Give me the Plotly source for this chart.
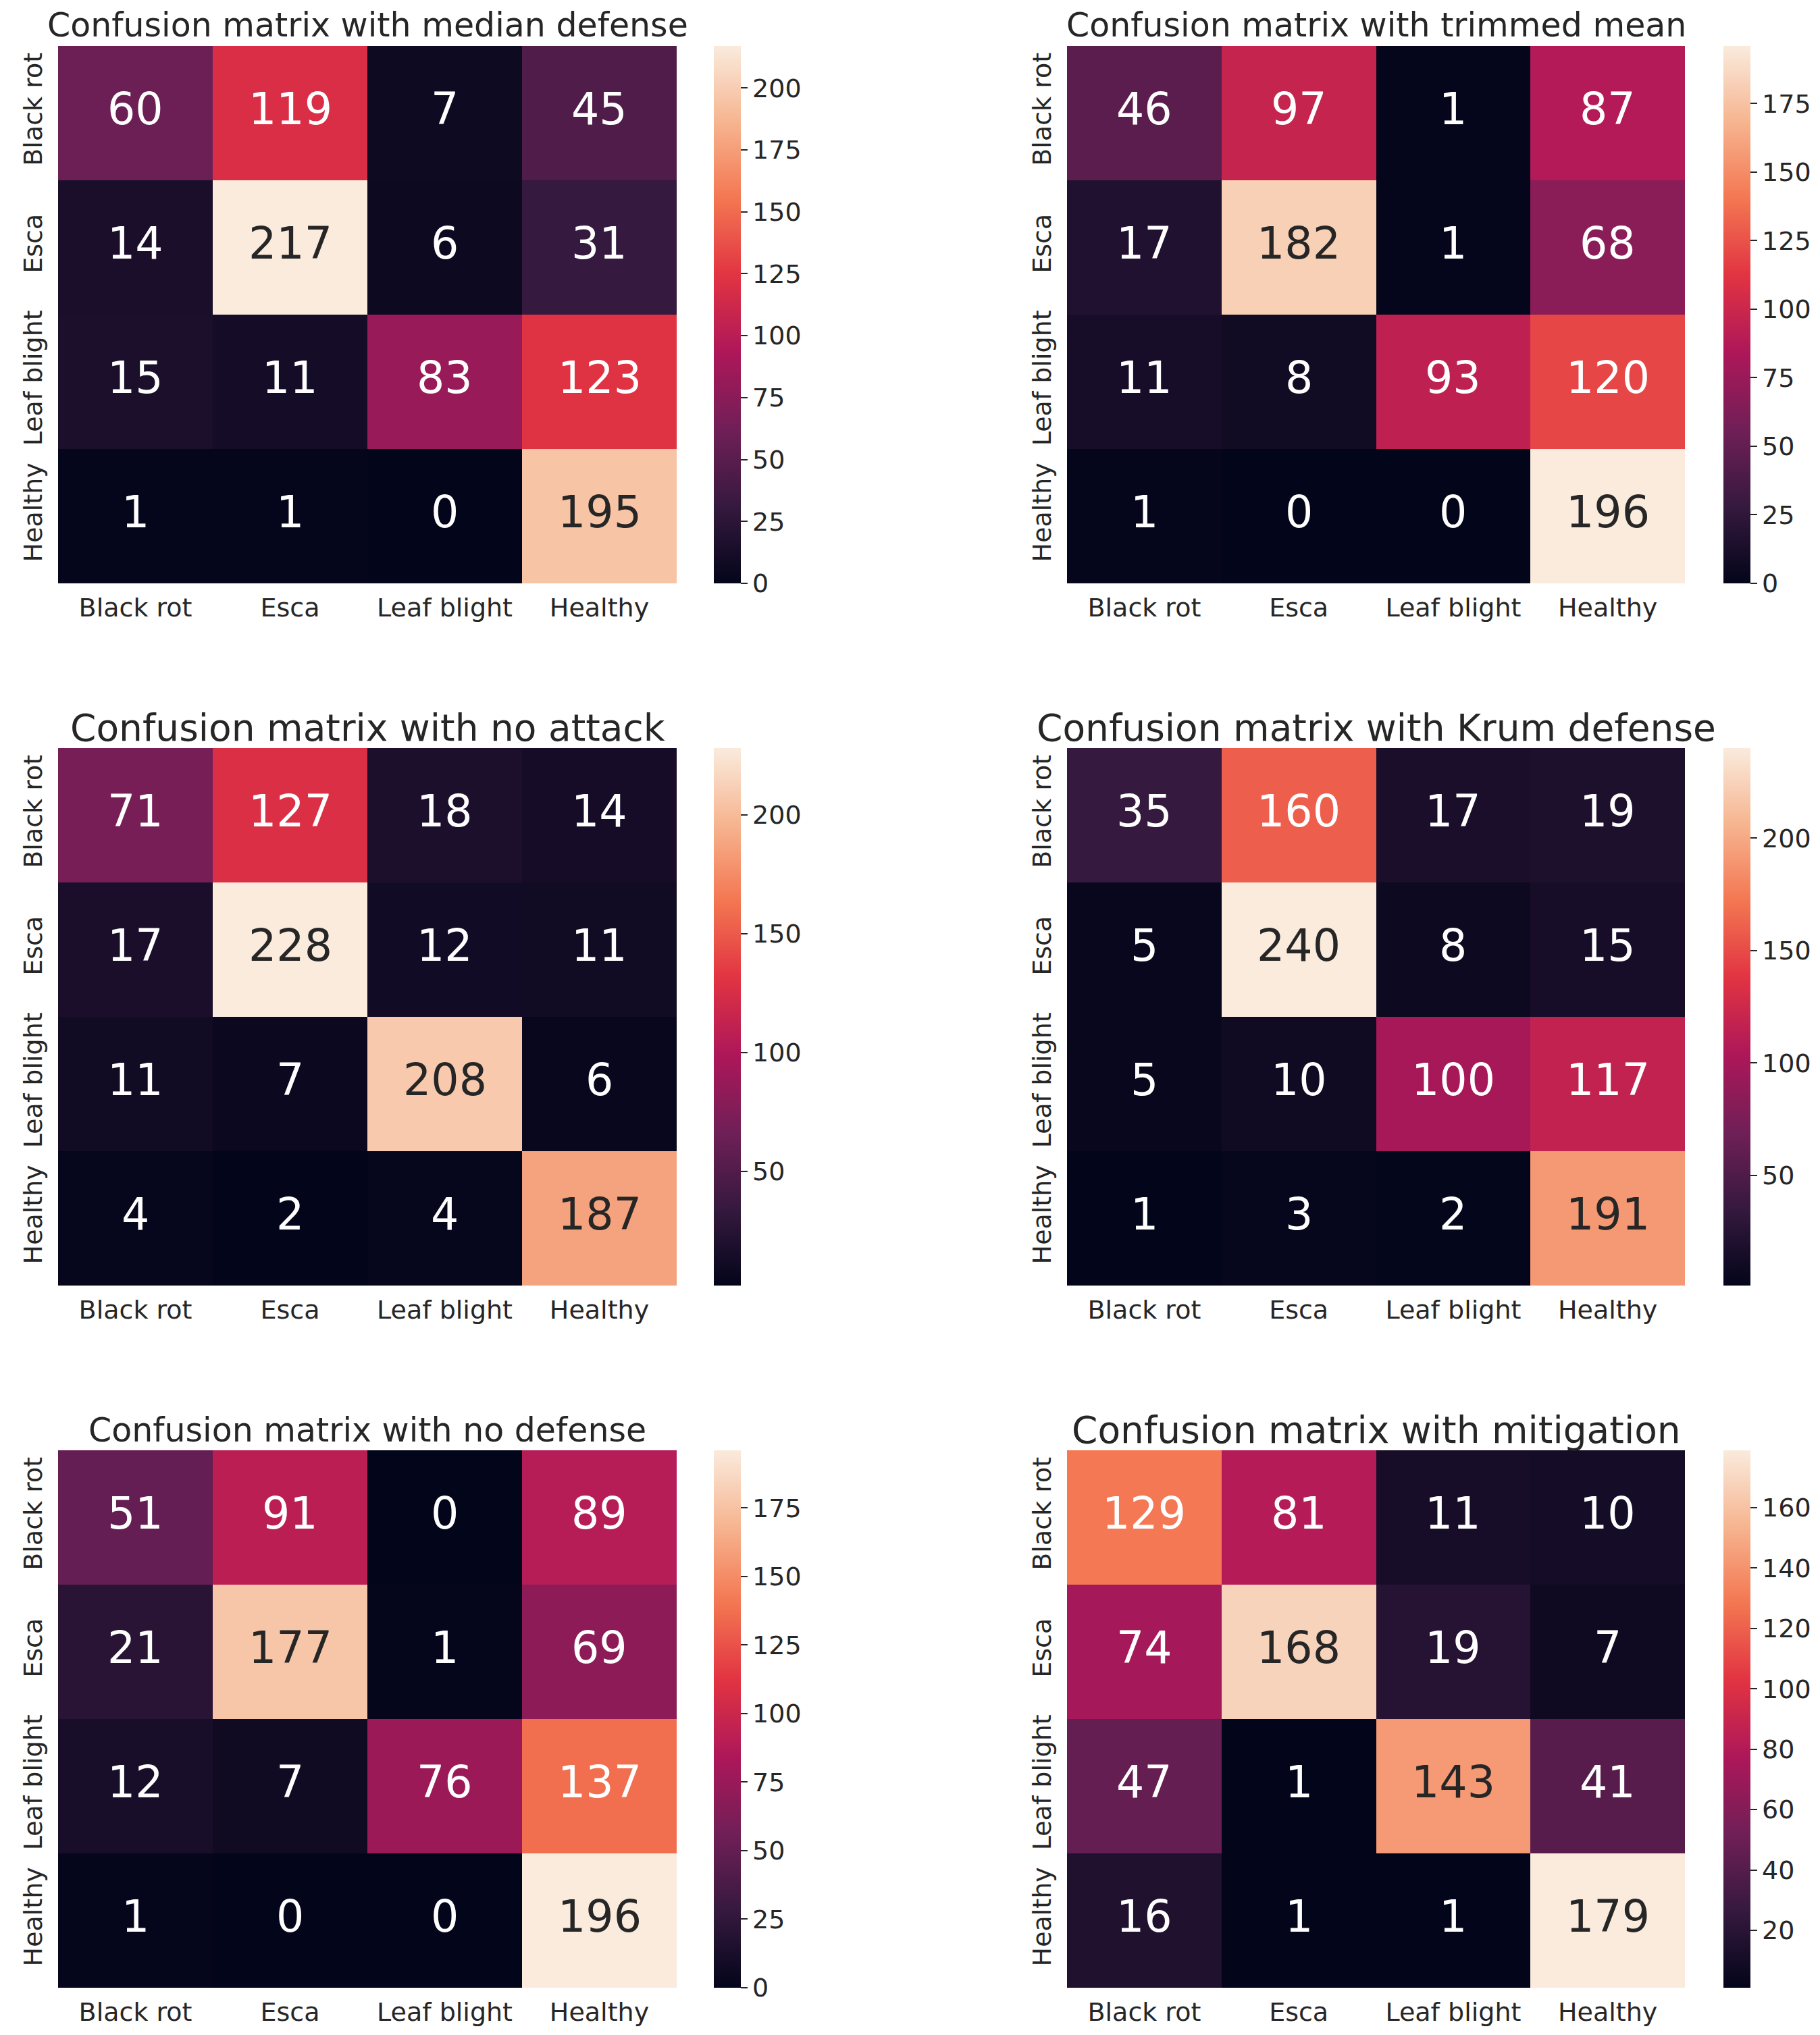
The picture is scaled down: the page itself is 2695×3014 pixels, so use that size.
import plotly.graph_objects as go

# ----------------------------------
# Data
# ----------------------------------

classes = ["Black rot", "Esca", "Leaf blight", "Healthy"]

titles = [
    "Confusion matrix with median defense",
    "Confusion matrix with trimmed mean",
    "Confusion matrix with no attack",
    "Confusion matrix with Krum defense",
    "Confusion matrix with no defense",
    "Confusion matrix with mitigation",
]

median_defense = [[60, 119, 7, 45], [14, 217, 6, 31], [15, 11, 83, 123], [1, 1, 0, 195]]
trimmed_mean = [[46, 97, 1, 87], [17, 182, 1, 68], [11, 8, 93, 120], [1, 0, 0, 196]]
no_attack = [[71, 127, 18, 14], [17, 228, 12, 11], [11, 7, 208, 6], [4, 2, 4, 187]]
krum_defense = [[35, 160, 17, 19], [5, 240, 8, 15], [5, 10, 100, 117], [1, 3, 2, 191]]
no_defense = [[51, 91, 0, 89], [21, 177, 1, 69], [12, 7, 76, 137], [1, 0, 0, 196]]
mitigation = [[129, 81, 11, 10], [74, 168, 19, 7], [47, 1, 143, 41], [16, 1, 1, 179]]

matrices = [median_defense, trimmed_mean, no_attack, krum_defense, no_defense, mitigation]
cbar_dticks = [25, 25, 50, 50, 25, 20]
title_sizes = [49, 49, 55, 55, 49, 55]

# seaborn "rocket" approximation
ROCKET = [
    [0.0, "#03051a"],
    [1 / 7, "#35193e"],
    [2 / 7, "#701f57"],
    [3 / 7, "#ad1759"],
    [4 / 7, "#e13342"],
    [5 / 7, "#f37651"],
    [6 / 7, "#f6b48f"],
    [1.0, "#faebdd"],
]

PAGE_W, PAGE_H = 2695, 3014
OFF = 8  # default body margin of the html page
W, H = PAGE_W - 2 * OFF, PAGE_H - 2 * OFF
FONT = "DejaVu Sans"
DARK = "#262626"

# pixel boxes of each heatmap on the page (left, right) / (top, bottom)
COLS = [(86, 1002), (1580, 2495)]
ROWS = [(68, 864), (1108, 1904), (2148, 2944)]
CBAR_X = [1057, 2552]


def px_x(v):
    return (v - OFF) / W


def px_y(v):
    return 1 - (v - OFF) / H


fig = go.Figure()
annotations = []

for i, (title, z) in enumerate(zip(titles, matrices)):
    r, c = divmod(i, 2)
    x0, x1 = COLS[c]
    y0, y1 = ROWS[r]
    n = i + 1
    xa = "x" if n == 1 else f"x{n}"
    ya = "y" if n == 1 else f"y{n}"

    flat = [v for row in z for v in row]
    zmin, zmax = min(flat), max(flat)

    fig.add_trace(go.Heatmap(
        z=z,
        x=classes,
        y=classes,
        xaxis=xa,
        yaxis=ya,
        zmin=zmin,
        zmax=zmax,
        colorscale=ROCKET,
        hoverongaps=False,
        colorbar=dict(
            x=px_x(CBAR_X[c]),
            xanchor="left",
            y=px_y((y0 + y1) / 2),
            yanchor="middle",
            len=(y1 - y0) / H,
            lenmode="fraction",
            thickness=40,
            thicknessmode="pixels",
            outlinewidth=0,
            ticks="outside",
            ticklen=10,
            tickwidth=2,
            tickcolor=DARK,
            tickmode="linear",
            tick0=0,
            dtick=cbar_dticks[i],
            tickfont=dict(family=FONT, size=38, color=DARK),
            xpad=0,
            ypad=0,
        ),
    ))

    axis_common = dict(
        showgrid=False,
        zeroline=False,
        showline=False,
        ticks="outside",
        tickcolor="rgba(0,0,0,0)",
        tickfont=dict(family=FONT, size=38, color=DARK),
    )
    fig.layout[xa.replace("x", "xaxis")] = dict(
        domain=[px_x(x0), px_x(x1)], anchor=ya, ticklen=2, **axis_common
    )
    fig.layout[ya.replace("y", "yaxis")] = dict(
        domain=[px_y(y1), px_y(y0)], anchor=xa, autorange="reversed",
        tickangle=-90, ticklen=8, **axis_common
    )

    # cell annotations
    for ri, row in enumerate(z):
        for ci, v in enumerate(row):
            frac = (v - zmin) / (zmax - zmin)
            annotations.append(dict(
                x=classes[ci], y=classes[ri], xref=xa, yref=ya,
                text=str(v), showarrow=False, yshift=6,
                font=dict(family=FONT, size=65,
                          color=DARK if frac > 0.76 else "white"),
            ))

    annotations.append(dict(
        x=px_x((x0 + x1) / 2), y=px_y(y0 - 30), xref="paper", yref="paper",
        text=title, showarrow=False, xanchor="center", yanchor="middle",
        font=dict(family=FONT, size=title_sizes[i], color=DARK),
    ))

fig.update_layout(
    width=W,
    height=H,
    margin=dict(l=0, r=0, t=0, b=0),
    paper_bgcolor="white",
    plot_bgcolor="white",
    annotations=annotations,
    font=dict(family=FONT, color=DARK),
)

fig.write_html("out.html")
